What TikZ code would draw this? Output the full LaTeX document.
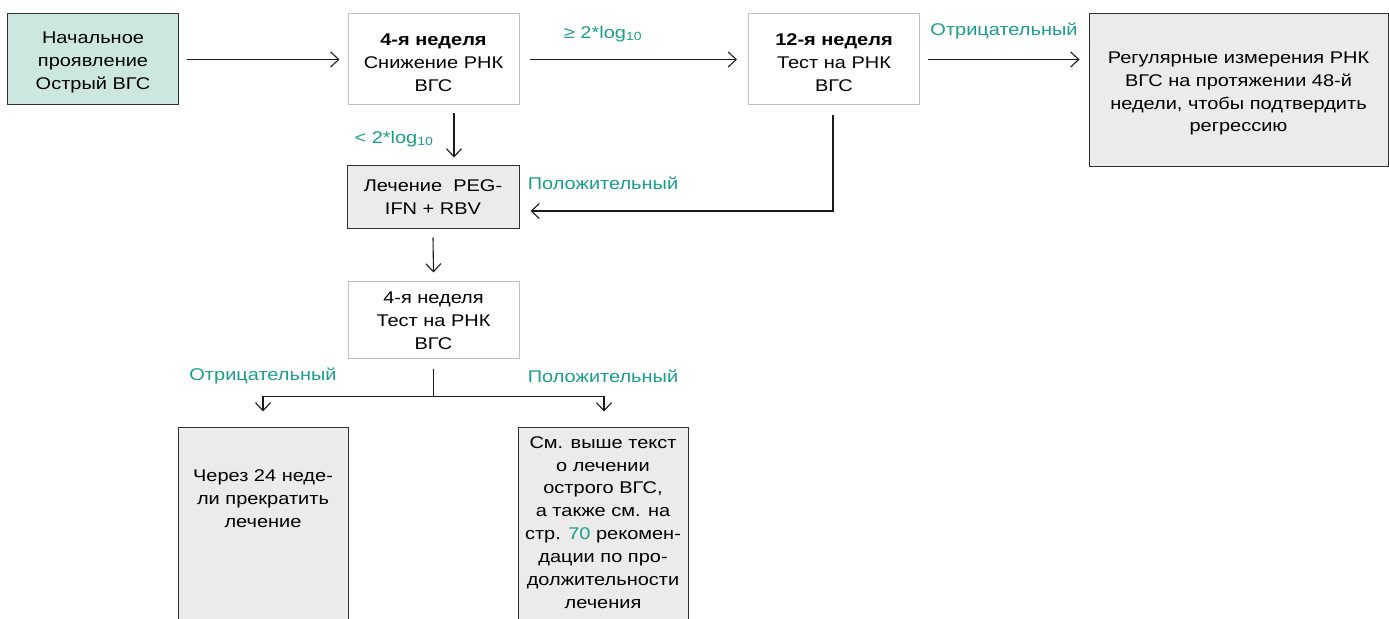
\documentclass[tikz,border=0pt]{standalone}
\usepackage{fontspec}
\setmainfont{Liberation Sans}[FakeStretch=1.18]
\usetikzlibrary{arrows.meta}

\definecolor{accent}{HTML}{1A9E8A}
\definecolor{startfill}{HTML}{CBE7E0}
\definecolor{grayfill}{HTML}{EBEBEB}
\definecolor{lightline}{HTML}{C0C0C0}
\definecolor{darkline}{HTML}{303030}
\definecolor{wire}{HTML}{1A1A1A}

\begin{document}
\begin{tikzpicture}[x=1bp,y=-1bp,
  font=\fontsize{17}{23}\selectfont,
  basebox/.style={rectangle, align=center, inner sep=0pt, line width=1bp},
  lightbox/.style={basebox, draw=lightline, fill=white},
  darkbox/.style={basebox, draw=darkline, fill=grayfill},
  boxtext/.style={align=center, inner sep=0pt},
  cond/.style={text=accent, inner sep=0pt},
  flow/.style={draw=wire, line width=1.1bp, -{Straight Barb[length=8bp,width=15bp]}},
  wireline/.style={draw=wire, line width=1.1bp}]

\useasboundingbox (0,0) rectangle (1389,619);
\clip (0,0) rectangle (1389,619);

% top row
\node[darkbox, fill=startfill, minimum width=170bp, minimum height=91bp] (start) at (93,59.5) {};
\node[boxtext] (start-t) at (93,62.5) {Начальное\\проявление\\Острый ВГС};
\node[lightbox, minimum width=171bp, minimum height=91bp] (wk4) at (433.5,59.5) {};
\node[boxtext] (wk4-t) at (433.5,62.5) {\textbf{4-я неделя}\\Снижение РНК\\ВГС};
\node[lightbox, minimum width=171bp, minimum height=91bp] (wk12) at (834,59.5) {};
\node[boxtext] (wk12-t) at (834,62.5) {\textbf{12-я неделя}\\Тест на РНК\\ВГС};
\node[darkbox, minimum width=299bp, minimum height=152bp] (monitor) at (1238.5,90) {};
\node[boxtext] (monitor-t) at (1238.5,93.5)
  {Регулярные измерения РНК\\ВГС на протяжении 48-й\\недели, чтобы подтвердить\\регрессию};

% treatment branch
\node[darkbox, minimum width=172bp, minimum height=62bp] (treat) at (433,197)
  {Лечение\ \ PEG-\\IFN + RBV};
\node[lightbox, minimum width=171bp, minimum height=77bp] (wk4b) at (433.5,319.5) {};
\node[boxtext] (wk4b-t) at (433.5,320.5) {4-я неделя\\Тест на РНК\\ВГС};

% outcome boxes (run past the lower edge)
\node[darkbox, minimum width=170bp, minimum height=240bp] (stop) at (263,547) {};
\node[boxtext] (stop-t) at (263,499) {Через 24 неде-\\ли прекратить\\лечение};
\node[darkbox, minimum width=170bp, minimum height=240bp] (cont) at (603,547) {};
\node[boxtext] (cont-t) at (603,522.5)
  {См. выше текст\\о лечении\\острого ВГС,\\а также см. на\\стр. \textcolor{accent}{70} рекомен-\\дации по про-\\должительности\\лечения};

% condition labels
\node[cond] (geq) at (603,34) {≥ 2*log\textsubscript{10}};
\node[cond] (less) at (394,139) {< 2*log\textsubscript{10}};
\node[cond] (negtop) at (1004,31) {Отрицательный};
\node[cond] (posmid) at (603,183) {Положительный};
\node[cond] (negbot) at (263,376) {Отрицательный};
\node[cond] (posbot) at (603,376) {Положительный};

% connectors
\draw[flow, shorten <=8bp, shorten >=8bp] (start.east) -- (wk4.west);
\draw[flow, shorten <=10bp, shorten >=11bp] (wk4.east) -- (wk12.west);
\draw[flow, shorten <=8bp, shorten >=9bp] (wk12.east) -- (monitor.west |- wk12.east);
\draw[flow] ([xshift=20.5bp,yshift=-8bp]wk4.south) -- ([xshift=21bp,yshift=8bp]treat.north);
\draw[flow] ([xshift=-1bp,yshift=-10bp]wk12.south) |- ([xshift=11bp,yshift=-14bp]treat.east);
\draw[flow] ([yshift=-9bp]treat.south) -- ([yshift=8bp]wk4b.north);
\draw[wireline] ([yshift=-10bp]wk4b.south) -- ++(0,28) coordinate (split);
\draw[flow] (split) -| ([yshift=15bp]stop.north);
\draw[flow] (split) -| ([xshift=1bp,yshift=15bp]cont.north);

\end{tikzpicture}
\end{document}
